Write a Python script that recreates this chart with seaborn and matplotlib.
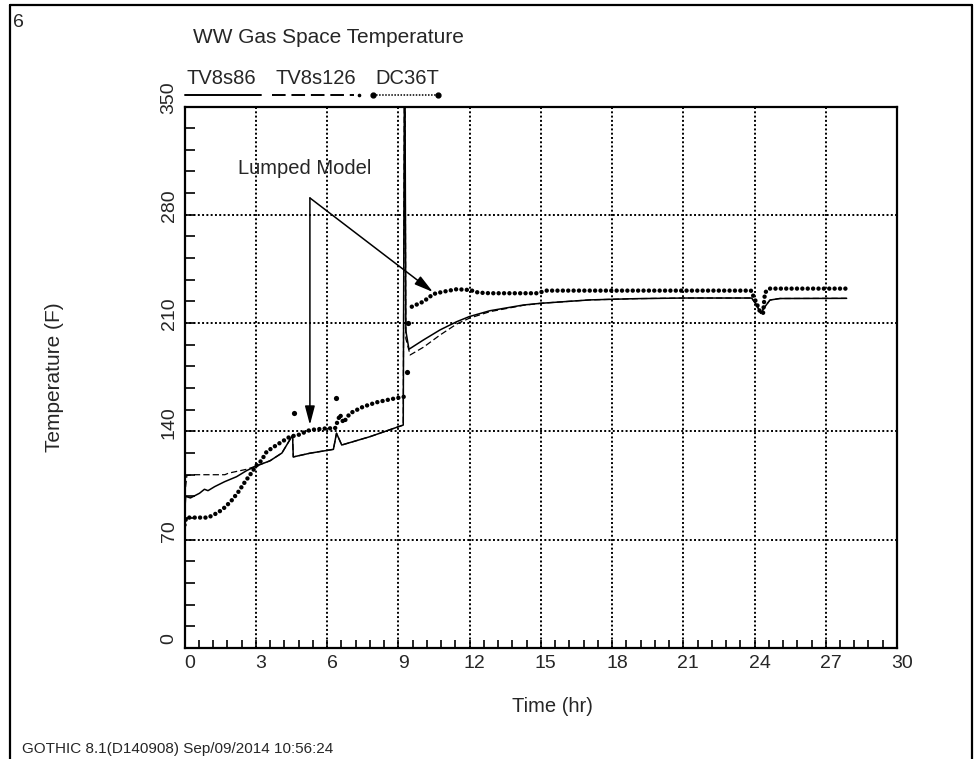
import numpy as np
import pandas as pd
import matplotlib
matplotlib.use("Agg")
import matplotlib.pyplot as plt
import matplotlib.transforms as mtransforms
from matplotlib.lines import Line2D
from matplotlib.ticker import MultipleLocator, FixedLocator
import seaborn as sns

# ---- chart text ----
plot_number = "6"
title = "WW Gas Space Temperature"
series_names = ["TV8s86", "TV8s126", "DC36T"]
x_label = "Time (hr)"
y_label = "Temperature (F)"
note_text = "Lumped Model"
footer = "GOTHIC 8.1(D140908) Sep/09/2014 10:56:24"

x_ticks = [0, 3, 6, 9, 12, 15, 18, 21, 24, 27, 30]
y_ticks = [0, 70, 140, 210, 280, 350]

# ---- TV8s86 (solid) ----
tv86_time = [0.0, 0.05, 0.25, 0.63, 0.84, 0.99, 1.27, 1.69, 2.19, 2.61, 3.0,
             3.6, 4.1, 4.55, 4.58, 5.28, 6.27, 6.40, 6.62, 7.81, 9.21, 9.27,
             9.32, 9.45, 10.06, 10.76, 11.46, 11.99, 12.86, 14.27, 15.0, 17.07,
             19.0, 21.0, 23.88, 24.09, 24.26, 24.44, 24.65, 25.07, 27.88]
tv86_temp = [86, 98, 97, 100, 102.6, 101.7, 104.3, 107.5, 110.7, 114.6, 117.5,
             121, 126, 137.5, 123.5, 125.9, 128.4, 138.8, 131.2, 136.6, 144.1, 420,
             205, 193.1, 199.1, 205.6, 210.9, 214.2, 218, 221.7, 222.8, 225,
             225.8, 226.2, 226.2, 221.7, 216.3, 220.6, 224.9, 225.9, 226]

# ---- TV8s126 (dashed) ----
tv126_time = [0.0, 0.1, 0.4, 1.7, 1.85, 2.61, 3.0,
              3.6, 4.1, 4.55, 4.58, 5.28, 6.27, 6.40, 6.62, 7.81, 9.21, 9.27,
              9.32, 9.5, 10.06, 10.76, 11.46, 12.0, 12.86, 14.27, 15.0, 17.07,
              19.0, 21.0, 23.88, 24.09, 24.26, 24.44, 24.65, 25.07, 27.88]
tv126_temp = [98, 111.5, 112, 112, 113, 115.5, 117.5,
              121, 126, 137.5, 123.5, 125.9, 128.4, 138.8, 131.2, 136.6, 144.1, 420,
              200, 189.4, 194.4, 202.3, 209.4, 213.2, 217.4, 221.5, 222.8, 225,
              225.8, 226.2, 226.2, 221.7, 216.3, 220.6, 224.9, 225.9, 226]

# ---- DC36T (measured, dotted) : two runs split at the heat-up step ----
dc_pre_time = [0.0, 0.07, 1.0, 1.13, 1.41, 1.69, 1.97, 2.25, 2.53, 2.81, 3.02,
               3.23, 3.46, 3.88, 4.44, 4.79, 5.28, 5.99, 6.34, 6.55, 6.69, 6.97,
               7.53, 8.09, 8.65, 9.28]
dc_pre_temp = [79.5, 84.3, 84.3, 85.4, 87.5, 90.8, 95.1, 100.5, 107, 113, 117.8,
               121, 126.9, 131.2, 136.6, 137.7, 140.9, 142, 142, 151, 145.6, 151.7,
               156, 158.8, 160.7, 162.5]
dc_post_time = [9.57, 10.06, 10.48, 10.9, 11.46, 12.02, 12.37, 12.86, 14.83, 15.25,
                17.07, 20.0, 23.85, 24.09, 24.23, 24.36, 24.44, 24.63, 27.88]
dc_post_temp = [220.6, 223.9, 228.8, 230.3, 231.9, 231.4, 229.7, 229.3, 229.3, 231,
                231, 231, 231, 222.8, 217.4, 216.3, 229.7, 232.3, 232.3]
# single DC36T readings away from the trace
dc_single_time = [4.61, 6.37, 9.35, 9.42]
dc_single_temp = [151.7, 161.4, 178.6, 209.9]

# arrow targets for the note
note_anchor = (5.28, 290.9)
note_targets = [(5.28, 144.2), (10.46, 230.1)]

# ---- styling ----
sns.set_style("white")
plt.rcParams["font.family"] = ["Liberation Sans", "DejaVu Sans"]

W, H = 974, 759
fig = plt.figure(figsize=(W / 100, H / 100), dpi=100)
ax = fig.add_axes([184.5 / W, 1 - 648 / H, (897 - 184.5) / W, (648 - 106.5) / H])


def fx(px):
    return px / W


def fy(py):
    return 1 - py / H


# model curves
sns.lineplot(x=tv86_time, y=tv86_temp, ax=ax, color="black", lw=1.1,
             estimator=None, sort=False)
sns.lineplot(x=tv126_time, y=tv126_temp, ax=ax, color="black", lw=0.9,
             estimator=None, sort=False)
ax.lines[-1].set_dashes((5, 2.5))

# measured data as closely packed round dots
dc = pd.DataFrame({
    "time": dc_pre_time + dc_post_time,
    "temp": dc_pre_temp + dc_post_temp,
    "run": [0] * len(dc_pre_time) + [1] * len(dc_post_time),
})
n_before = len(ax.lines)
sns.lineplot(data=dc, x="time", y="temp", units="run", estimator=None,
             sort=False, ax=ax, color="black", lw=3.2)
for ln in ax.lines[n_before:]:
    ln.set_dashes((0.01, 1.2))
    ln.set_dash_capstyle("round")
sns.scatterplot(x=dc_single_time, y=dc_single_temp, ax=ax, color="black",
                s=14, linewidth=0)

ax.set_xlim(x_ticks[0], x_ticks[-1])
ax.set_ylim(y_ticks[0], y_ticks[-1])
ax.xaxis.set_major_locator(FixedLocator(x_ticks))
ax.yaxis.set_major_locator(FixedLocator(y_ticks))
ax.xaxis.set_minor_locator(MultipleLocator(0.6))
ax.yaxis.set_minor_locator(MultipleLocator(14))
ax.set_xticklabels([str(v) for v in x_ticks])
ax.set_yticklabels([str(v) for v in y_ticks], rotation=90, va="center")
ax.tick_params(axis="x", which="both", direction="in", length=6, width=1.2,
               color="black", labelsize=14, pad=5, bottom=True, top=False)
ax.tick_params(axis="y", which="both", direction="in", length=7, width=1.2,
               color="black", labelsize=14, pad=5, left=True, right=False)
for lab in ax.get_xticklabels():
    lab.set_transform(lab.get_transform() +
                      mtransforms.ScaledTranslation(0.05, 0, fig.dpi_scale_trans))
for lab in ax.get_yticklabels():
    lab.set_transform(lab.get_transform() +
                      mtransforms.ScaledTranslation(0, 0.09, fig.dpi_scale_trans))
ax.set_xlabel("")
ax.set_ylabel("")
ax.grid(True, which="major", color="black", linestyle=(0, (1, 1.2)), lw=1.4)
for sp in ax.spines.values():
    sp.set_visible(True)
    sp.set_color("black")
    sp.set_linewidth(1.6)

# note with two arrows
ax.text(5.07, 306.4, note_text, ha="center", va="baseline", fontsize=14.5)
for tgt in note_targets:
    ax.annotate("", xy=tgt, xytext=note_anchor,
                arrowprops=dict(arrowstyle="-|>,head_length=0.95,head_width=0.25",
                                color="black", lw=1.1, shrinkA=0, shrinkB=0,
                                mutation_scale=12))

# titles and axis labels
fig.text(fx(13), fy(27), plot_number, ha="left", va="baseline", fontsize=14)
fig.text(fx(193), fy(43), title, ha="left", va="baseline", fontsize=15)
fig.text(fx(55), fy(377), y_label, rotation=90, ha="center", va="center",
         fontsize=15)
fig.text(fx(552), fy(711.7), x_label, ha="center", va="baseline", fontsize=14.5)
fig.text(fx(22), fy(753), footer, ha="left", va="baseline", fontsize=11)

# series key above the plot
key_x = [186.7, 276, 375]
for name, kx in zip(series_names, key_x):
    fig.text(fx(kx), fy(84.3), name, ha="left", va="baseline", fontsize=14.5)
fig.add_artist(Line2D([fx(185), fx(260.7)], [fy(95), fy(95)], color="black",
                      lw=1.4, transform=fig.transFigure))
fig.add_artist(Line2D([fx(272), fx(354)], [fy(95), fy(95)], color="black",
                      lw=1.4, dashes=(7, 3), transform=fig.transFigure))
fig.add_artist(Line2D([fx(359)], [fy(95)], color="black", marker="o",
                      markersize=1.6, lw=0, transform=fig.transFigure))
fig.add_artist(Line2D([fx(373), fx(438)], [fy(95), fy(95)], color="black",
                      lw=1.1, linestyle=(0, (1, 1)), transform=fig.transFigure))
fig.add_artist(Line2D([fx(373), fx(438)], [fy(95), fy(95)], color="black",
                      marker="o", markersize=3.5, lw=0, transform=fig.transFigure))

# page frame
for xs, ys in [([fx(10), fx(10)], [fy(5), fy(H)]),
               ([fx(10), fx(972)], [fy(5), fy(5)]),
               ([fx(972), fx(972)], [fy(5), fy(H)])]:
    fig.add_artist(Line2D(xs, ys, color="black", lw=1.6,
                          transform=fig.transFigure))

fig.savefig("out.png", dpi=100)
